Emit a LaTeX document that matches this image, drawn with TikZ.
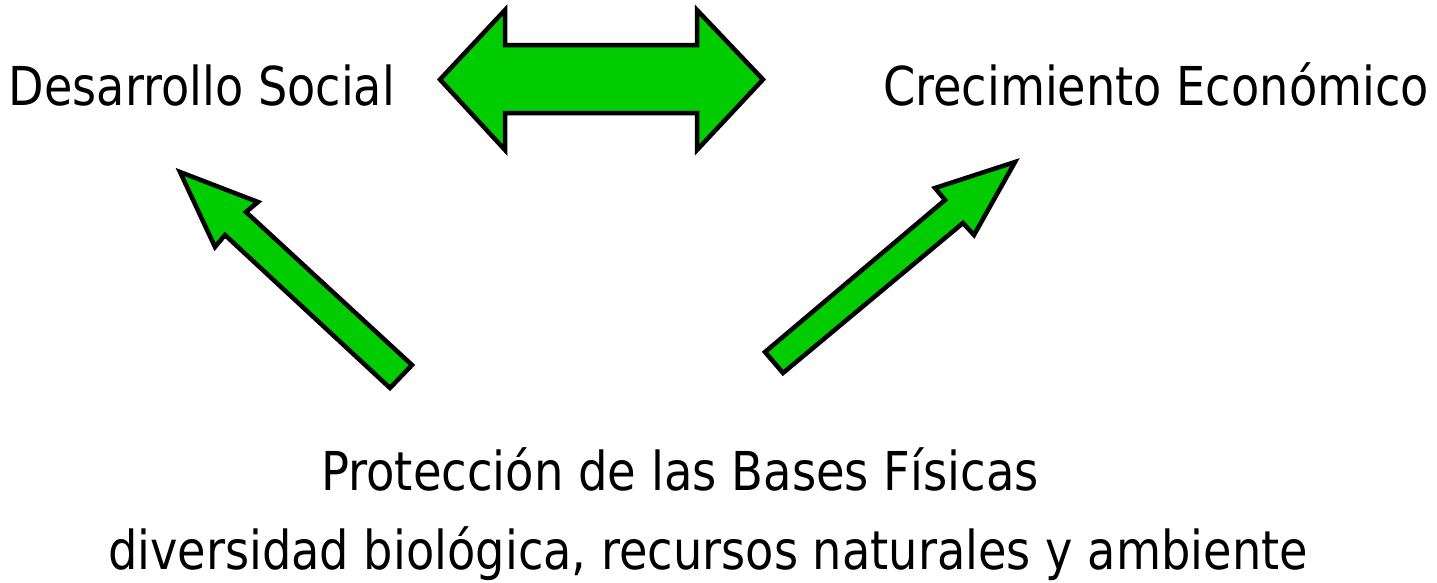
\documentclass[tikz,border=0pt]{standalone}
\usepackage{fontspec}
\setmainfont{DejaVu Sans}
\usepackage{graphicx}
\tikzset{
  blockarrow/.style={draw=black, fill=arrowgreen, line width=0.09cm, line join=miter},
  lbl/.style={inner sep=0pt, outer sep=0pt, anchor=base west, font=\fontsize{30.5}{36}\selectfont}
}
\definecolor{arrowgreen}{HTML}{00CC00}
\newcommand{\fitw}[2]{\resizebox{#1}{\height}{#2}}
\begin{document}
\begin{tikzpicture}[x=0.02cm, y=-0.02cm]
\useasboundingbox (0,0) rectangle (1437,582);
% double arrow
\draw[blockarrow] (440,79.5) -- (505,10) -- (505,45) -- (697,45) -- (697,10) -- (763,79.5)
  -- (697,150) -- (697,113) -- (505,113) -- (505,150) -- cycle;
% left arrow
\draw[blockarrow] (180,172) -- (258,202) -- (246,212) -- (412,365) -- (390,388) -- (225,235) -- (215,247) -- cycle;
% right arrow
\draw[blockarrow] (1015,162) -- (974,235) -- (963,223) -- (783,373) -- (765,352) -- (945,200) -- (935,188) -- cycle;
% labels
\node[lbl] (ds) at (9,105) {\fitw{7.72cm}{Desarrollo Social}};
\node[lbl] (ce) at (883,105) {\fitw{10.92cm}{Crecimiento Económico}};
\node[lbl] (pb) at (321,490) {\fitw{14.36cm}{Protección de las Bases Físicas}};
\node[lbl] (dv) at (108,569) {\fitw{24.0cm}{diversidad biológica, recursos naturales y ambiente}};
\end{tikzpicture}
\end{document}
